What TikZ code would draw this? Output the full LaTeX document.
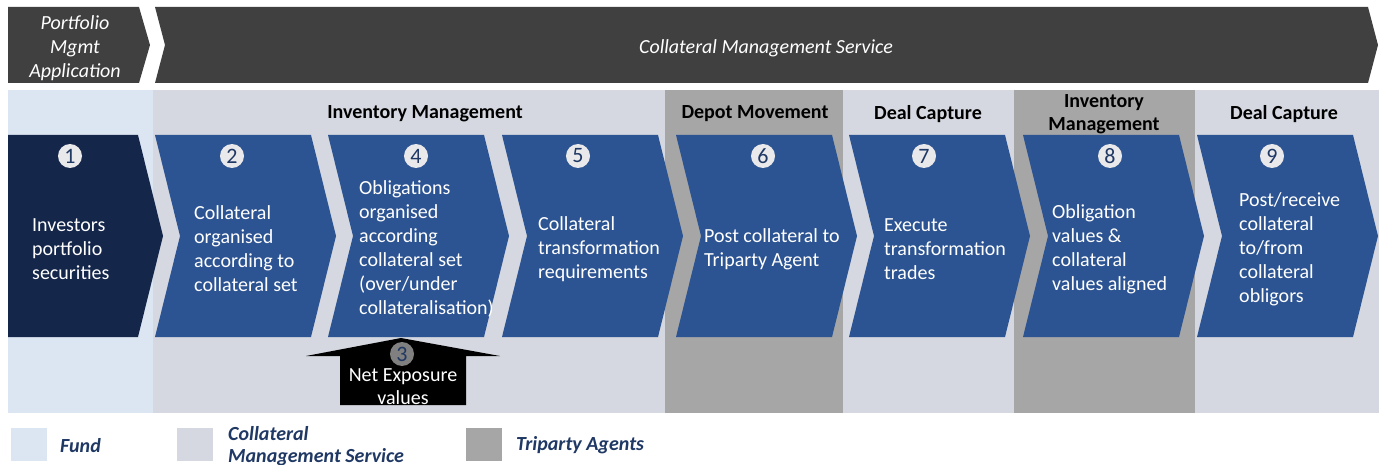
\documentclass[tikz,border=0pt]{standalone}
\usepackage{fontspec}
\setmainfont{Carlito}

\definecolor{bannergrey}{HTML}{404040}
\definecolor{fundblue}{HTML}{DCE6F2}
\definecolor{cmsgrey}{HTML}{D5D8E0}
\definecolor{tripartygrey}{HTML}{A6A6A6}
\definecolor{stageblue}{HTML}{2D5492}
\definecolor{fundnavy}{HTML}{15264B}
\definecolor{numfill}{HTML}{E9E9EC}
\definecolor{navytext}{HTML}{1F3864}

\begin{document}
\begin{tikzpicture}[x=1pt,y=-1pt,
  steptext/.style={anchor=west,align=left,text=white,inner sep=0pt,
    font=\fontsize{20}{24}\selectfont},
  numcirc/.style={circle,fill=numfill,text=navytext,inner sep=0pt,
    minimum size=24pt,font=\fontsize{22}{22}\selectfont},
  phase/.style={align=center,inner sep=0pt,text=black,
    font=\fontsize{20}{23}\selectfont\bfseries},
  legendtext/.style={anchor=west,align=left,inner sep=0pt,text=navytext,
    font=\fontsize{20}{22}\selectfont\bfseries\itshape}]
  \useasboundingbox (0,0) rectangle (1379,465);

  % Application banner across the top
  \fill[bannergrey] (8,7) -- (139,7) -- (150,45) -- (139,83) -- (8,83) -- cycle;
  \fill[bannergrey] (155,7) -- (1368,7) -- (1378,45) -- (1368,83) -- (155,83)
    -- (165,45) -- cycle;
  \node[align=center,text=white,font=\fontsize{20}{24}\selectfont\itshape]
    (pma) at (75,48) {Portfolio\\Mgmt\\Application};
  \node[text=white,font=\fontsize{20}{24}\selectfont\itshape]
    (cms) at (766,48) {Collateral Management Service};

  % Responsibility bands behind the process
  \fill[cmsgrey] (153,90) rectangle (1379,413);
  \fill[fundblue] (8,90) rectangle (153,413);
  \fill[tripartygrey] (665,90) rectangle (843,413);
  \fill[tripartygrey] (1014,90) rectangle (1195,413);

  \node[phase] (ph1) at (425,114) {Inventory Management};
  \node[phase] (ph2) at (755,114) {Depot Movement};
  \node[phase] (ph3) at (928,114) {Deal Capture};
  \node[phase] (ph4) at (1104,114) {Inventory\\Management};
  \node[phase] (ph5) at (1284,114) {Deal Capture};

  % Process chevrons
  \fill[fundnavy] (8,135) -- (138,135) -- (163,236) -- (138,337) -- (8,337) -- cycle;
  \foreach \lx in {155,328,502,676,849,1023,1197}
    \fill[stageblue] (\lx,135) -- ++(156,0) -- ++(25,101) -- ++(-25,101)
      -- ++(-156,0) -- ++(25,-101) -- cycle;

  \foreach \cx/\k in {70/1,232/2,416/4,578/5,763/6,924/7,1110/8,1272/9}
    \node[numcirc] (n\k) at (\cx,156) {\k};

  \node[steptext] (s1) at (32,249) {Investors\\portfolio\\securities};
  \node[steptext] (s2) at (194,249) {Collateral\\organised\\according to\\collateral set};
  \node[steptext] (s4) at (359,249) {Obligations\\organised\\according\\collateral set\\(over/under\\collateralisation)};
  \node[steptext] (s5) at (538,249) {Collateral\\transformation\\requirements};
  \node[steptext] (s6) at (704,249) {Post collateral to\\Triparty Agent};
  \node[steptext] (s7) at (884,249) {Execute\\transformation\\trades};
  \node[steptext] (s8) at (1052,249) {Obligation\\values \&\\collateral\\values aligned};
  \node[steptext] (s9) at (1239,249) {Post/receive\\collateral\\to/from\\collateral\\obligors};

  % Net exposure feeding step 4
  \fill[black] (340,405) -- (340,356) -- (306,356) -- (401,338) -- (500,356)
    -- (466,356) -- (466,405) -- cycle;
  \node[circle,fill=black!50,text=navytext,inner sep=0pt,minimum size=24pt,
    font=\fontsize{22}{22}\selectfont] (n3) at (402,354) {3};
  \node[align=center,text=white,inner sep=0pt,font=\fontsize{20}{23}\selectfont]
    (net) at (403,387) {Net Exposure\\values};

  % Legend
  \fill[fundblue] (11,428) rectangle (47,461);
  \node[legendtext] (lg1) at (60,446) {Fund};
  \fill[cmsgrey] (177,428) rectangle (213,461);
  \node[legendtext] (lg2) at (228,446) {Collateral\\Management Service};
  \fill[tripartygrey] (466,428) rectangle (502,461);
  \node[legendtext] (lg3) at (516,445) {Triparty Agents};
\end{tikzpicture}
\end{document}
